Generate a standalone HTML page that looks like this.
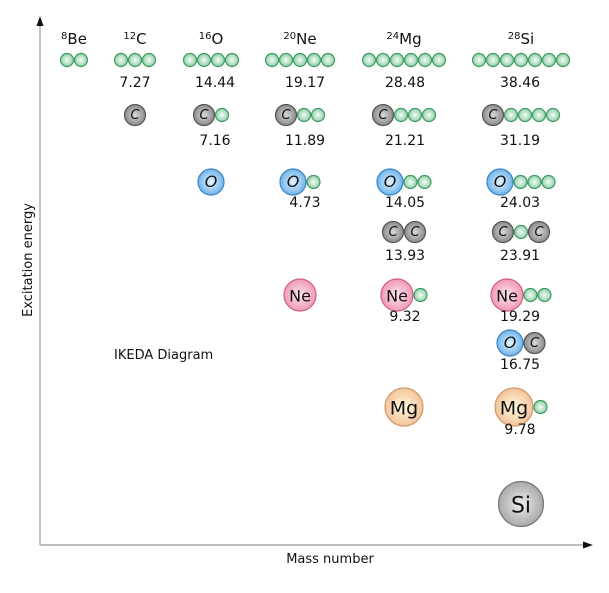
<!DOCTYPE html>
<html><head><meta charset="utf-8"><style>
html,body{margin:0;padding:0;background:#fff;}
svg{display:block;font-family:"Comic Sans MS","DejaVu Sans","Liberation Sans",sans-serif;}
</style></head><body>
<svg id="chart" width="609" height="593" viewBox="0 0 609 593" xmlns="http://www.w3.org/2000/svg">
<defs>
<radialGradient id="g-a" cx="50%" cy="50%" r="50%"><stop offset="0" stop-color="#f4fbf6"/><stop offset="1" stop-color="#8fd0a8"/></radialGradient>
<radialGradient id="g-C" cx="50%" cy="50%" r="50%"><stop offset="0" stop-color="#d8d8d8"/><stop offset="1" stop-color="#8a8a8a"/></radialGradient>
<radialGradient id="g-O" cx="50%" cy="50%" r="50%"><stop offset="0" stop-color="#e6f4ff"/><stop offset="1" stop-color="#6fb4ea"/></radialGradient>
<radialGradient id="g-Ne" cx="50%" cy="50%" r="50%"><stop offset="0" stop-color="#fde6ee"/><stop offset="1" stop-color="#ef9ab8"/></radialGradient>
<radialGradient id="g-Mg" cx="50%" cy="50%" r="50%"><stop offset="0" stop-color="#fffbe0"/><stop offset="1" stop-color="#f3c39a"/></radialGradient>
<radialGradient id="g-Si" cx="50%" cy="50%" r="50%"><stop offset="0" stop-color="#eeeeee"/><stop offset="1" stop-color="#a9a9a9"/></radialGradient>
</defs>
<line x1="40" y1="545" x2="40" y2="24" stroke="#999" stroke-width="1.2"/>
<polygon points="40,16 36.5,26 43.5,26" fill="#111"/>
<line x1="40" y1="545" x2="585" y2="545" stroke="#999" stroke-width="1.2"/>
<polygon points="593,545 583,541.5 583,548.5" fill="#111"/>
<text x="330" y="563" font-size="13" text-anchor="middle" fill="#111">Mass number</text>
<text transform="translate(32,260) rotate(-90)" font-size="13" text-anchor="middle" fill="#111">Excitation energy</text>
<text x="114" y="359" font-size="13" fill="#111">IKEDA Diagram</text>
<g id="marks"></g>
</svg>
<script>
// nuclei (columns)
const nuclei = ["Be","C","O","Ne","Mg","Si"];
const massNumbers = ["8","12","16","20","24","28"];
// cluster configurations: column index, row index, parts, threshold energy
const configCols = [0,1,2,3,4,5, 1,2,3,4,5, 2,3,4,5, 4,5, 3,4,5, 5, 4,5, 5];
const configRows = [0,0,0,0,0,0, 1,1,1,1,1, 2,2,2,2, 3,3, 4,4,4, 5, 6,6, 7];
const configParts = [
 "a a","a a a","a a a a","a a a a a","a a a a a a","a a a a a a a",
 "C","C a","C a a","C a a a","C a a a a",
 "O","O a","O a a","O a a a",
 "C C","C a C",
 "Ne","Ne a","Ne a a",
 "O C",
 "Mg","Mg a",
 "Si"];
const configEnergies = ["","7.27","14.44","19.17","28.48","38.46",
 "","7.16","11.89","21.21","31.19",
 "","4.73","14.05","24.03",
 "13.93","23.91",
 "","9.32","19.29",
 "16.75",
 "","9.78",
 ""];

// layout (not data)
const colX = [74,135,211,300,404,521];
const labelDx = [0,0,4,5,1,-1];
const rowY = [60,115,182,232,295,343,407,504];
const labelDy = [27,30,25,28,26,26,27,0];
const radius = {a:7,C:11,O:13.5,Ne:16.5,Mg:19.5,Si:23};
const stroke = {a:"#3f9a63",C:"#555",O:"#3a86c6",Ne:"#d0607f",Mg:"#cf9a6a",Si:"#777"};
const NS="http://www.w3.org/2000/svg";
const g=document.getElementById('marks');

nuclei.forEach((n,i)=>{
  const t=document.createElementNS(NS,'text');
  t.setAttribute('x',colX[i]);t.setAttribute('y',44);
  t.setAttribute('text-anchor','middle');t.setAttribute('font-size','15');t.setAttribute('fill','#111');
  
  
  const s=document.createElementNS(NS,'tspan');s.setAttribute('font-size','10');s.setAttribute('dy','-5');s.textContent=massNumbers[i];
  const m=document.createElementNS(NS,'tspan');m.setAttribute('dy','5');m.textContent=n;
  t.appendChild(s);t.appendChild(m);g.appendChild(t);
});

configParts.forEach((p,k)=>{
  const parts=p.split(' ');
  const cx=colX[configCols[k]], cy=rowY[configRows[k]];
  const w=parts.reduce((s,q)=>s+2*radius[q],0);
  let x=cx-w/2;
  const grp=document.createElementNS(NS,'g');
  
  
  parts.forEach(q=>{
    const r=radius[q]; const px=x+r;
    const c=document.createElementNS(NS,'circle');
    c.setAttribute('cx',px);c.setAttribute('cy',cy);c.setAttribute('r',r-0.5);
    c.setAttribute('fill','url(#g-'+q+')');c.setAttribute('stroke',stroke[q]);c.setAttribute('stroke-width','1.2');
    
    
    grp.appendChild(c);
    if(q!=='a'){
      const t=document.createElementNS(NS,'text');
      t.setAttribute('x',px);t.setAttribute('y',cy+r*0.38);t.setAttribute('text-anchor','middle');
      t.setAttribute('font-size',Math.round(r*(q==='C'||q==='O'?1.2:0.95)));
      t.setAttribute('font-style',(q==='C'||q==='O')?'italic':'normal');
      t.setAttribute('fill','#111');
      
      
      t.textContent=q;grp.appendChild(t);
    }
    x+=2*r;
  });
  g.appendChild(grp);
  if(configEnergies[k]){
    const t=document.createElementNS(NS,'text');
    t.setAttribute('x',cx+labelDx[configCols[k]]);t.setAttribute('y',cy+labelDy[configRows[k]]);
    t.setAttribute('text-anchor','middle');t.setAttribute('font-size','14');t.setAttribute('fill','#111');
    
    
    t.textContent=configEnergies[k];g.appendChild(t);
  }
});
</script>
</body></html>
